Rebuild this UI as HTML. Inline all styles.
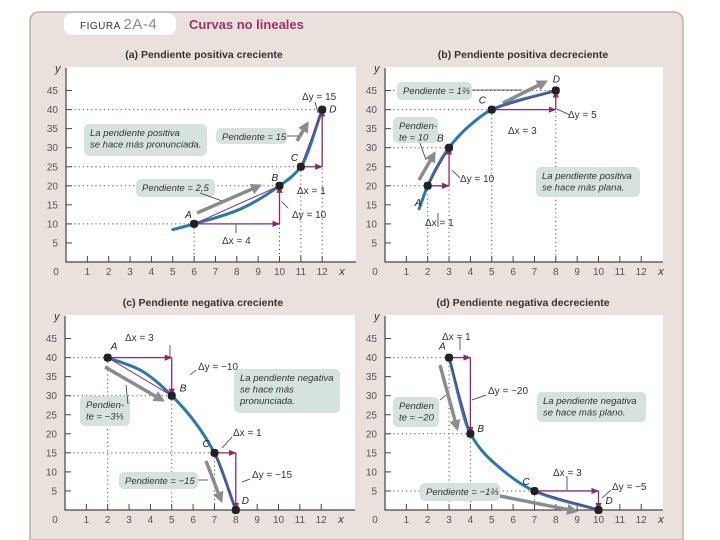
<!DOCTYPE html>
<html><head><meta charset="utf-8"><style>
html,body{margin:0;padding:0;background:#fff;width:720px;height:540px;overflow:hidden}
svg{display:block;font-family:"Liberation Sans",sans-serif}
.tk{font-size:10px;fill:#555}
.it{font-style:italic;font-size:9.5px;fill:#333}
.pl{font-style:italic;font-size:10px;fill:#222}
.dl{font-size:10px;fill:#333}
.ti{font-size:10.5px;fill:#333;font-weight:bold}
</style></head><body>
<svg id="fig" width="720" height="540" viewBox="0 0 720 540">
<defs>
<marker id="pa" viewBox="0 0 10 10" refX="9" refY="5" markerWidth="6" markerHeight="6" orient="auto"><path d="M0,1 L10,5 L0,9 z" fill="#8a2a6c"/></marker>
<marker id="ga" viewBox="0 0 10 10" refX="7" refY="5" markerWidth="3.2" markerHeight="3.2" orient="auto"><path d="M0,0 L10,5 L0,10 z" fill="#8c8c8c"/></marker>
</defs>
<path d="M30,540 L30,22 Q30,12 40,12 L673,12 Q683,12 683,22 L683,540 Z" fill="#ebe1dc" stroke="#bdb2ad" stroke-width="1.5"/>
<rect x="64" y="13" width="112" height="22" rx="8" fill="#fff"/>
<text x="80" y="29" font-size="10" fill="#333" letter-spacing="0.5">FIGURA <tspan font-size="15" fill="#888">2A-4</tspan></text>
<text x="189" y="29" font-size="13" font-weight="bold" fill="#a0306a">Curvas no lineales</text>
<g id="panels"></g>
</svg>
<script>
// Panel data arrays
const curveA=[[5,8.5],[6,10],[8,13.5],[10,20],[11,25],[12,40]];
const pointsA=[[6,10],[10,20],[11,25],[12,40]];
const curveB=[[1.6,14],[2,20],[3,30],[4,36],[5,40],[8,45]];
const pointsB=[[2,20],[3,30],[5,40],[8,45]];
const curveC=[[2,40],[3.5,36.8],[5,30],[7,15],[8,0]];
const pointsC=[[2,40],[5,30],[7,15],[8,0]];
const curveD=[[3,40],[4,20],[5.5,10.5],[7,5],[10,0]];
const pointsD=[[3,40],[4,20],[7,5],[10,0]];
const pointLabels=['A','B','C','D'];
const xTicks=[0,1,2,3,4,5,6,7,8,9,10,11,12];
const yTicks=[5,10,15,20,25,30,35,40,45];
const titles=['(a) Pendiente positiva creciente','(b) Pendiente positiva decreciente','(c) Pendiente negativa creciente','(d) Pendiente negativa decreciente'];

const NS='http://www.w3.org/2000/svg';
const root=document.getElementById('panels');
function mk(tag,attrs,parent,txt){const e=document.createElementNS(NS,tag);for(const k in attrs)e.setAttribute(k,attrs[k]);if(txt!==undefined)e.textContent=txt;(parent||root).appendChild(e);return e;}
const UX=21.35, UY=3.81;

function monotonePath(pts){
  const n=pts.length,xs=pts.map(p=>p[0]),ys=pts.map(p=>p[1]);
  const dx=[],s=[];
  for(let i=0;i<n-1;i++){dx.push(xs[i+1]-xs[i]);s.push((ys[i+1]-ys[i])/dx[i]);}
  const m=[s[0]];
  for(let i=1;i<n-1;i++){
    if(s[i-1]*s[i]<=0)m.push(0);
    else{const w1=2*dx[i]+dx[i-1],w2=dx[i]+2*dx[i-1];m.push((w1+w2)/(w1/s[i-1]+w2/s[i]));}
  }
  m.push(s[n-2]);
  let d=`M${xs[0]},${ys[0]}`;
  for(let i=0;i<n-1;i++){
    const h=dx[i]/3;
    d+=` C${xs[i]+h},${ys[i]+m[i]*h} ${xs[i+1]-h},${ys[i+1]-m[i+1]*h} ${xs[i+1]},${ys[i+1]}`;
  }
  return d;
}

function panel(cfg){
  const g=mk('g',{});
  
  
  const X=v=>cfg.ox+v*UX, Y=v=>cfg.oy-v*UY;
  const bg=mk('rect',{x:cfg.ox,y:cfg.oy-195,width:cfg.w,height:195,fill:'#fff'},g);
  
  
  const t=mk('text',{x:cfg.ox+138,y:cfg.oy-204,'text-anchor':'middle',class:'ti'},g,cfg.title);
  
  
  const ax=mk('path',{d:`M${cfg.ox},${cfg.oy-194} V${cfg.oy} H${cfg.ox+cfg.w}`,stroke:'#444','stroke-width':1.2,fill:'none'},g);
  
  
  xTicks.forEach(v=>{
    if(v>0)mk('line',{x1:X(v),x2:X(v),y1:cfg.oy,y2:cfg.oy-6,stroke:'#444'},g);
    const l=mk('text',{x:v===0?cfg.ox-10:X(v),y:cfg.oy+13,'text-anchor':'middle',class:'tk'},g,v);
    
    
  });
  yTicks.forEach(v=>{
    mk('line',{x1:cfg.ox,x2:cfg.ox+6,y1:Y(v),y2:Y(v),stroke:'#444'},g);
    const l=mk('text',{x:cfg.ox-8,y:Y(v)+3.5,'text-anchor':'end',class:'tk'},g,v);
    
    
  });
  const yl=mk('text',{x:cfg.ox-11,y:cfg.oy-190,'font-style':'italic','font-size':11,fill:'#333'},g,'y');
  
  
  const xl=mk('text',{x:X(12)+17,y:cfg.oy+13,'font-style':'italic','font-size':11,fill:'#333'},g,'x');
  
  
  cfg.pts.forEach(p=>{
    mk('path',{d:`M${cfg.ox},${Y(p[1])} H${X(p[0])} M${X(p[0])},${Y(p[1])} V${cfg.oy}`,stroke:'#555','stroke-width':1,'stroke-dasharray':'1.2 3',fill:'none'},g);
  });
  cfg.boxes.forEach(b=>{
    const r=mk('rect',{x:b[0],y:b[1],width:b[2],height:b[3],rx:5,fill:'#d6e2de'},g);
    
    
    b[4].forEach((ln,i)=>{const tt=mk('text',{x:b[0]+6,y:b[1]+12+i*11.5,class:'it'},g,ln);
      
      });
  });
  cfg.leaders.forEach(l=>mk('line',{x1:l[0],y1:l[1],x2:l[2],y2:l[3],stroke:'#333','stroke-width':0.8},g));
  cfg.gray.forEach(a=>{const e=mk('line',{x1:a[0],y1:a[1],x2:a[2],y2:a[3],stroke:'#8c8c8c','stroke-width':3.5,'marker-end':'url(#ga)'},g);
    
    });
  const cv=mk('path',{d:monotonePath(cfg.curve.map(p=>[X(p[0]),Y(p[1])])),stroke:'#2a78b0','stroke-width':3,fill:'none','stroke-linecap':'round'},g);
  
  
  const P=cfg.pts;
  [[0,1],[2,3]].forEach(([i,j])=>{
    mk('line',{x1:X(P[i][0]),y1:Y(P[i][1]),x2:X(P[j][0]),y2:Y(P[j][1]),stroke:'#8a2a6c','stroke-width':1},g);
    const h=mk('line',{x1:X(P[i][0]),y1:Y(P[i][1]),x2:X(P[j][0]),y2:Y(P[i][1]),stroke:'#8a2a6c','stroke-width':1.3,'marker-end':'url(#pa)'},g);
    
    
    const v=mk('line',{x1:X(P[j][0]),y1:Y(P[i][1]),x2:X(P[j][0]),y2:Y(P[j][1]),stroke:'#8a2a6c','stroke-width':1.3,'marker-end':'url(#pa)'},g);
    
    
  });
  P.forEach((p,i)=>{
    const m=mk('rect',{x:X(p[0])-4,y:Y(p[1])-4,width:8,height:8,rx:3,fill:'#222'},g);
    
    
    const o=cfg.lab[i];
    const l=mk('text',{x:X(p[0])+o[0],y:Y(p[1])+o[1],class:'pl'},g,pointLabels[i]);
    
    
  });
  cfg.deltas.forEach(dl=>{const e=mk('text',{x:dl[0],y:dl[1],class:'dl'},g,dl[2]);
    
    });
}

panel({id:'a',ox:66,oy:262,w:290,title:titles[0],curve:curveA,pts:pointsA,
 lab:[[-9,-6],[-8,-5],[-10,-6],[7,3]],
 boxes:[[84,124,123,32,['La pendiente positiva','se hace más pronunciada.']],[216,128,71,16,['Pendiente = 15']],[136,179,79,18,['Pendiente = 2,5']]],
 leaders:[[287,136,300,136],[200,193,225,202],[315,102,318,113],[288,208,282,202],[236,233,236,224]],
 gray:[[197,213,259,186],[297,141,307,124]],
 deltas:[[302,100,'Δy = 15'],[297,194,'Δx = 1'],[292,218,'Δy = 10'],[222,244,'Δx = 4']]});
panel({id:'b',ox:385,oy:262,w:278,title:titles[1],curve:curveB,pts:pointsB,
 lab:[[-13,20],[-12,-6],[-13,-6],[-3,-8]],
 boxes:[[397,82,75,18,['Pendiente = 1⅔']],[393,117,45,26,['Pendien-','te = 10']],[536,167,104,30,['La pendiente positiva','se hace más plana.']]],
 leaders:[[472,90,522,90],[420,143,426,160],[570,115,557,109],[460,178,452,170],[438,227,438,213]],
 gray:[[419,180,434,154],[503,103,545,82]],
 deltas:[[568,118,'Δy = 5'],[508,134,'Δx = 3'],[460,182,'Δy = 10'],[425,226,'Δx = 1']]});
panel({id:'c',ox:65,oy:510,w:290,title:titles[2],curve:curveC,pts:pointsC,
 lab:[[3,-8],[8,-4],[-12,-6],[6,-6]],
 boxes:[[234,369,106,44,['La pendiente negativa','se hace más','pronunciada.']],[80,396,50,30,['Pendien-','te = −3⅓']],[119,472,79,17,['Pendiente = −15']]],
 leaders:[[198,480,208,480],[128,404,126,385],[170,345,170,358],[196,370,190,375],[232,437,222,448],[250,479,242,482]],
 gray:[[105,367,162,400],[206,461,221,500]],
 deltas:[[125,341,'Δx = 3'],[198,370,'Δy = −10'],[233,436,'Δx = 1'],[252,478,'Δy = −15']]});
panel({id:'d',ox:385,oy:510,w:278,title:titles[3],curve:curveD,pts:pointsD,
 lab:[[-10,-8],[7,-2],[-12,-6],[7,-6]],
 boxes:[[537,392,109,30,['La pendiente negativa','se hace más plano.']],[393,397,46,30,['Pendien','te = −20']],[420,483,80,18,['Pendiente = −1⅔']]],
 leaders:[[460,337,460,350],[486,395,472,400],[440,400,446,395],[567,476,567,490],[611,490,602,498],[500,495,540,505]],
 gray:[[440,365,457,428],[500,496,575,511]],
 deltas:[[442,340,'Δx = 1'],[488,394,'Δy = −20'],[553,476,'Δx = 3'],[612,490,'Δy = −5']]});
</script>
</body></html>
